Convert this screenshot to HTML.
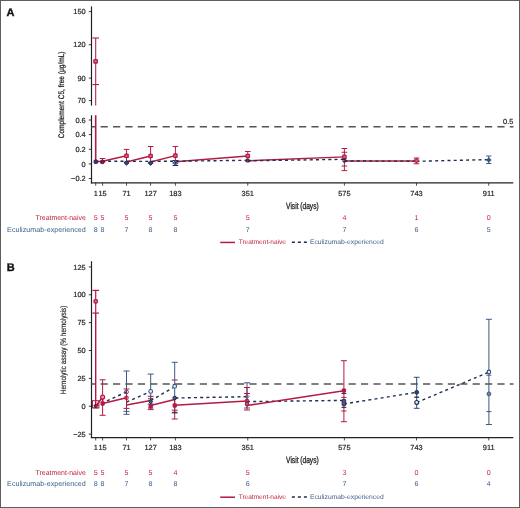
<!DOCTYPE html>
<html><head><meta charset="utf-8"><title>Figure</title>
<style>html,body{margin:0;padding:0;background:#fff;}svg{display:block;will-change:transform;}</style>
</head><body>
<svg width="520" height="508" viewBox="0 0 520 508" text-rendering="geometricPrecision" font-family='"Liberation Sans", sans-serif'>
<rect x="0" y="0" width="520" height="508" fill="#fff"/>
<text x="6.6" y="15.6" font-size="11" fill="#111" text-anchor="start" font-weight="bold" stroke="#111" stroke-width="0.35">A</text>
<line x1="91.5" y1="6.4" x2="91.5" y2="105.6" stroke="#222" stroke-width="1.2" />
<line x1="91.5" y1="115.2" x2="91.5" y2="183.5" stroke="#222" stroke-width="1.2" />
<line x1="88.8" y1="11.6" x2="91.5" y2="11.6" stroke="#222" stroke-width="0.9" />
<text x="85.7" y="14.3" font-size="7.4" fill="#222" text-anchor="end" stroke="#2a2a2a" stroke-width="0.2">150</text>
<line x1="88.8" y1="44.75" x2="91.5" y2="44.75" stroke="#222" stroke-width="0.9" />
<text x="85.7" y="47.45" font-size="7.4" fill="#222" text-anchor="end" stroke="#2a2a2a" stroke-width="0.2">120</text>
<line x1="88.8" y1="78.1" x2="91.5" y2="78.1" stroke="#222" stroke-width="0.9" />
<text x="85.7" y="80.8" font-size="7.4" fill="#222" text-anchor="end" stroke="#2a2a2a" stroke-width="0.2">90</text>
<line x1="88.8" y1="100.6" x2="91.5" y2="100.6" stroke="#222" stroke-width="0.9" />
<text x="85.7" y="103.3" font-size="7.4" fill="#222" text-anchor="end" stroke="#2a2a2a" stroke-width="0.2">70</text>
<line x1="88.8" y1="120" x2="91.5" y2="120" stroke="#222" stroke-width="0.9" />
<text x="85.7" y="122.7" font-size="7.4" fill="#222" text-anchor="end" stroke="#2a2a2a" stroke-width="0.2">0.6</text>
<line x1="88.8" y1="134.6" x2="91.5" y2="134.6" stroke="#222" stroke-width="0.9" />
<text x="85.7" y="137.29999999999998" font-size="7.4" fill="#222" text-anchor="end" stroke="#2a2a2a" stroke-width="0.2">0.4</text>
<line x1="88.8" y1="149.25" x2="91.5" y2="149.25" stroke="#222" stroke-width="0.9" />
<text x="85.7" y="151.95" font-size="7.4" fill="#222" text-anchor="end" stroke="#2a2a2a" stroke-width="0.2">0.2</text>
<line x1="88.8" y1="163.9" x2="91.5" y2="163.9" stroke="#222" stroke-width="0.9" />
<text x="85.7" y="166.6" font-size="7.4" fill="#222" text-anchor="end" stroke="#2a2a2a" stroke-width="0.2">0</text>
<line x1="88.8" y1="178.5" x2="91.5" y2="178.5" stroke="#222" stroke-width="0.9" />
<text x="85.7" y="181.2" font-size="7.4" fill="#222" text-anchor="end" stroke="#2a2a2a" stroke-width="0.2">−0.2</text>
<text transform="translate(64.3,94.9) rotate(-90) scale(0.82,1)" font-size="8.0" fill="#222" stroke="#222" stroke-width="0.25" text-anchor="middle">Complement C5, free (μg/mL)</text>
<line x1="91.5" y1="126.8" x2="513.5" y2="126.8" stroke="#555" stroke-width="1.45" stroke-dasharray="7.2 5.2" stroke-dashoffset="3.3"/>
<text x="513.3" y="123.75" font-size="7.4" fill="#222" text-anchor="end" stroke="#2a2a2a" stroke-width="0.2">0.5</text>
<line x1="95.7" y1="38" x2="95.7" y2="105.6" stroke="#b31b43" stroke-width="1.05" />
<line x1="92.4" y1="38" x2="99.0" y2="38" stroke="#b31b43" stroke-width="1.1" />
<line x1="92.4" y1="84.6" x2="99.0" y2="84.6" stroke="#b31b43" stroke-width="1.1" />
<rect x="93.89999999999999" y="59.599999999999994" width="3.4" height="3.4" rx="0.6" fill="#e07090" stroke="#b31b43" stroke-width="1.3"/>
<line x1="95.7" y1="115.2" x2="95.7" y2="161.5" stroke="#b31b43" stroke-width="1.6" />
<polyline points="95.7,161.6 102.6,161.2 126.5,155.8" fill="none" stroke="#b31b43" stroke-width="1.4"  stroke-linejoin="round"/>
<polyline points="126.5,162 150.6,156" fill="none" stroke="#b31b43" stroke-width="1.4"  stroke-linejoin="round"/>
<polyline points="150.6,162 175.4,155.6" fill="none" stroke="#b31b43" stroke-width="1.4"  stroke-linejoin="round"/>
<polyline points="175.4,161.7 247.75,156" fill="none" stroke="#b31b43" stroke-width="1.4"  stroke-linejoin="round"/>
<polyline points="247.75,160.8 344.4,156.9" fill="none" stroke="#b31b43" stroke-width="1.4"  stroke-linejoin="round"/>
<polyline points="344.4,161 416.5,161" fill="none" stroke="#b31b43" stroke-width="1.4"  stroke-linejoin="round"/>
<polyline points="95.7,161.6 102.6,161.3 126.5,161.3 150.6,161.4 175.4,161.2 247.75,160.3" fill="none" stroke="#1c2f4d" stroke-width="1.4" stroke-dasharray="3 3.2" stroke-linejoin="round"/>
<polyline points="247.75,160.8 344.4,159.3" fill="none" stroke="#1c2f4d" stroke-width="1.4" stroke-dasharray="3 3.2" stroke-linejoin="round"/>
<polyline points="344.4,161 416.5,161.2" fill="none" stroke="#1c2f4d" stroke-width="1.4" stroke-dasharray="3 3.2" stroke-linejoin="round"/>
<polyline points="416.5,161.3 488.75,159.6" fill="none" stroke="#1c2f4d" stroke-width="1.4" stroke-dasharray="3 3.2" stroke-linejoin="round"/>
<line x1="102.6" y1="158.5" x2="102.6" y2="162" stroke="#b31b43" stroke-width="1.0" />
<line x1="99.8" y1="158.5" x2="105.39999999999999" y2="158.5" stroke="#b31b43" stroke-width="1.0" />
<line x1="99.8" y1="162" x2="105.39999999999999" y2="162" stroke="#b31b43" stroke-width="1.0" />
<line x1="126.5" y1="149.4" x2="126.5" y2="162" stroke="#b31b43" stroke-width="1.0" />
<line x1="123.7" y1="149.4" x2="129.3" y2="149.4" stroke="#b31b43" stroke-width="1.0" />
<line x1="123.7" y1="162" x2="129.3" y2="162" stroke="#b31b43" stroke-width="1.0" />
<rect x="124.8" y="154.10000000000002" width="3.4" height="3.4" rx="0.6" fill="#e06080" stroke="#b31b43" stroke-width="1.2"/>
<line x1="150.6" y1="146.5" x2="150.6" y2="163" stroke="#b31b43" stroke-width="1.0" />
<line x1="147.79999999999998" y1="146.5" x2="153.4" y2="146.5" stroke="#b31b43" stroke-width="1.0" />
<line x1="147.79999999999998" y1="163" x2="153.4" y2="163" stroke="#b31b43" stroke-width="1.0" />
<rect x="148.9" y="154.3" width="3.4" height="3.4" rx="0.6" fill="#e06080" stroke="#b31b43" stroke-width="1.2"/>
<line x1="175.4" y1="146.5" x2="175.4" y2="163" stroke="#b31b43" stroke-width="1.0" />
<line x1="172.6" y1="146.5" x2="178.20000000000002" y2="146.5" stroke="#b31b43" stroke-width="1.0" />
<line x1="172.6" y1="163" x2="178.20000000000002" y2="163" stroke="#b31b43" stroke-width="1.0" />
<rect x="173.70000000000002" y="153.9" width="3.4" height="3.4" rx="0.6" fill="#e06080" stroke="#b31b43" stroke-width="1.2"/>
<line x1="247.75" y1="151.5" x2="247.75" y2="161" stroke="#b31b43" stroke-width="1.0" />
<line x1="244.95" y1="151.5" x2="250.55" y2="151.5" stroke="#b31b43" stroke-width="1.0" />
<line x1="244.95" y1="161" x2="250.55" y2="161" stroke="#b31b43" stroke-width="1.0" />
<rect x="246.05" y="154.3" width="3.4" height="3.4" rx="0.6" fill="#e06080" stroke="#b31b43" stroke-width="1.2"/>
<line x1="344.4" y1="148.5" x2="344.4" y2="170.6" stroke="#b31b43" stroke-width="1.0" />
<line x1="341.59999999999997" y1="148.5" x2="347.2" y2="148.5" stroke="#b31b43" stroke-width="1.0" />
<line x1="341.59999999999997" y1="170.6" x2="347.2" y2="170.6" stroke="#b31b43" stroke-width="1.0" />
<line x1="341.59999999999997" y1="152.25" x2="347.2" y2="152.25" stroke="#b31b43" stroke-width="1.0" />
<line x1="341.59999999999997" y1="166" x2="347.2" y2="166" stroke="#b31b43" stroke-width="1.0" />
<rect x="342.7" y="155.20000000000002" width="3.4" height="3.4" rx="0.6" fill="#e06080" stroke="#b31b43" stroke-width="1.2"/>
<line x1="416.5" y1="158" x2="416.5" y2="163.75" stroke="#b31b43" stroke-width="1.0" />
<line x1="413.7" y1="158" x2="419.3" y2="158" stroke="#b31b43" stroke-width="1.0" />
<line x1="413.7" y1="163.75" x2="419.3" y2="163.75" stroke="#b31b43" stroke-width="1.0" />
<rect x="414.9" y="159.0" width="3.2" height="3.2" rx="0.6" fill="#e06080" stroke="#b31b43" stroke-width="1.1"/>
<rect x="94.1" y="160.0" width="3.4" height="3.4" rx="0.6" fill="#4a3060" stroke="#3a2a5a" stroke-width="1.0"/>
<rect x="100.5" y="160.1" width="3.6" height="3.6" rx="1.4" fill="#7a1a45" stroke="#6a1a40" stroke-width="1.0"/>
<path d="M126.5 160.7L128.8 163L126.5 165.3L124.2 163Z" fill="#2a4a78" stroke="#1c2f4d" stroke-width="1.0"/>
<path d="M150.6 160.79999999999998L152.9 163.1L150.6 165.4L148.29999999999998 163.1Z" fill="#2a4a78" stroke="#1c2f4d" stroke-width="1.0"/>
<line x1="175.4" y1="160.5" x2="175.4" y2="165.5" stroke="#1c2f4d" stroke-width="1.0" />
<line x1="172.6" y1="160.5" x2="178.20000000000002" y2="160.5" stroke="#1c2f4d" stroke-width="1.0" />
<line x1="172.6" y1="165.5" x2="178.20000000000002" y2="165.5" stroke="#1c2f4d" stroke-width="1.0" />
<path d="M175.4 160.8L177.6 163L175.4 165.2L173.20000000000002 163Z" fill="none" stroke="#3a5a84" stroke-width="1.1"/>
<rect x="246.35" y="159.2" width="2.8" height="2.8" rx="0.6" fill="none" stroke="#1c2f4d" stroke-width="1.1"/>
<rect x="343.0" y="159.1" width="2.8" height="2.8" rx="0.6" fill="none" stroke="#1c2f4d" stroke-width="1.1"/>
<line x1="488.75" y1="156" x2="488.75" y2="163.5" stroke="#3a5a84" stroke-width="1.0" />
<line x1="486.15" y1="156" x2="491.35" y2="156" stroke="#3a5a84" stroke-width="1.0" />
<line x1="486.15" y1="163.5" x2="491.35" y2="163.5" stroke="#3a5a84" stroke-width="1.0" />
<path d="M488.75 158.0L490.75 160L488.75 162.0L486.75 160Z" fill="#3a5a84" stroke="#3a5a84" stroke-width="1.1"/>
<line x1="90.9" y1="182.9" x2="513.3" y2="182.9" stroke="#222" stroke-width="1.2" />
<line x1="95.7" y1="182.9" x2="95.7" y2="185.70000000000002" stroke="#222" stroke-width="0.8" />
<line x1="102.6" y1="182.9" x2="102.6" y2="185.70000000000002" stroke="#222" stroke-width="0.8" />
<line x1="126.5" y1="182.9" x2="126.5" y2="185.70000000000002" stroke="#222" stroke-width="0.8" />
<line x1="150.6" y1="182.9" x2="150.6" y2="185.70000000000002" stroke="#222" stroke-width="0.8" />
<line x1="175.4" y1="182.9" x2="175.4" y2="185.70000000000002" stroke="#222" stroke-width="0.8" />
<line x1="247.75" y1="182.9" x2="247.75" y2="185.70000000000002" stroke="#222" stroke-width="0.8" />
<line x1="344.4" y1="182.9" x2="344.4" y2="185.70000000000002" stroke="#222" stroke-width="0.8" />
<line x1="416.5" y1="182.9" x2="416.5" y2="185.70000000000002" stroke="#222" stroke-width="0.8" />
<line x1="488.75" y1="182.9" x2="488.75" y2="185.70000000000002" stroke="#222" stroke-width="0.8" />
<text x="95.7" y="195.6" font-size="7.4" fill="#222" text-anchor="middle" stroke="#2a2a2a" stroke-width="0.2">1</text>
<text x="102.6" y="195.6" font-size="7.4" fill="#222" text-anchor="middle" stroke="#2a2a2a" stroke-width="0.2">15</text>
<text x="126.5" y="195.6" font-size="7.4" fill="#222" text-anchor="middle" stroke="#2a2a2a" stroke-width="0.2">71</text>
<text x="150.6" y="195.6" font-size="7.4" fill="#222" text-anchor="middle" stroke="#2a2a2a" stroke-width="0.2">127</text>
<text x="175.4" y="195.6" font-size="7.4" fill="#222" text-anchor="middle" stroke="#2a2a2a" stroke-width="0.2">183</text>
<text x="247.75" y="195.6" font-size="7.4" fill="#222" text-anchor="middle" stroke="#2a2a2a" stroke-width="0.2">351</text>
<text x="344.4" y="195.6" font-size="7.4" fill="#222" text-anchor="middle" stroke="#2a2a2a" stroke-width="0.2">575</text>
<text x="416.5" y="195.6" font-size="7.4" fill="#222" text-anchor="middle" stroke="#2a2a2a" stroke-width="0.2">743</text>
<text x="488.75" y="195.6" font-size="7.4" fill="#222" text-anchor="middle" stroke="#2a2a2a" stroke-width="0.2">911</text>
<text transform="translate(302.4,208.5) scale(0.72,1)" font-size="9.2" fill="#222" stroke="#222" stroke-width="0.3" text-anchor="middle">Visit (days)</text>
<text x="85.8" y="220.1" font-size="7.1" fill="#c0243f" text-anchor="end" textLength="50.3" lengthAdjust="spacingAndGlyphs">Treatment-naive</text>
<text x="85.8" y="231.7" font-size="7.1" fill="#3b5f8c" text-anchor="end" textLength="78.7" lengthAdjust="spacingAndGlyphs">Eculizumab-experienced</text>
<text x="95.7" y="220.1" font-size="7.1" fill="#c0243f" text-anchor="middle" >5</text>
<text x="102.6" y="220.1" font-size="7.1" fill="#c0243f" text-anchor="middle" >5</text>
<text x="126.5" y="220.1" font-size="7.1" fill="#c0243f" text-anchor="middle" >5</text>
<text x="150.6" y="220.1" font-size="7.1" fill="#c0243f" text-anchor="middle" >5</text>
<text x="175.4" y="220.1" font-size="7.1" fill="#c0243f" text-anchor="middle" >5</text>
<text x="247.75" y="220.1" font-size="7.1" fill="#c0243f" text-anchor="middle" >5</text>
<text x="344.4" y="220.1" font-size="7.1" fill="#c0243f" text-anchor="middle" >4</text>
<text x="416.5" y="220.1" font-size="7.1" fill="#c0243f" text-anchor="middle" >1</text>
<text x="488.75" y="220.1" font-size="7.1" fill="#c0243f" text-anchor="middle" >0</text>
<text x="95.7" y="231.7" font-size="7.1" fill="#3b5f8c" text-anchor="middle" >8</text>
<text x="102.6" y="231.7" font-size="7.1" fill="#3b5f8c" text-anchor="middle" >8</text>
<text x="126.5" y="231.7" font-size="7.1" fill="#3b5f8c" text-anchor="middle" >7</text>
<text x="150.6" y="231.7" font-size="7.1" fill="#3b5f8c" text-anchor="middle" >8</text>
<text x="175.4" y="231.7" font-size="7.1" fill="#3b5f8c" text-anchor="middle" >8</text>
<text x="247.75" y="231.7" font-size="7.1" fill="#3b5f8c" text-anchor="middle" >7</text>
<text x="344.4" y="231.7" font-size="7.1" fill="#3b5f8c" text-anchor="middle" >7</text>
<text x="416.5" y="231.7" font-size="7.1" fill="#3b5f8c" text-anchor="middle" >6</text>
<text x="488.75" y="231.7" font-size="7.1" fill="#3b5f8c" text-anchor="middle" >5</text>
<line x1="220.2" y1="242.45" x2="235.0" y2="242.45" stroke="#b31b43" stroke-width="1.5" />
<text x="238.7" y="244.4" font-size="6.7" fill="#c0243f" text-anchor="start" textLength="47.3" lengthAdjust="spacingAndGlyphs">Treatment-naive</text>
<line x1="291.9" y1="242.25" x2="307.0" y2="242.25" stroke="#1c2f4d" stroke-width="1.3" stroke-dasharray="3 3"/>
<text x="310.0" y="244.4" font-size="6.7" fill="#3b5f8c" text-anchor="start" textLength="73.7" lengthAdjust="spacingAndGlyphs">Eculizumab-experienced</text>
<text x="6.7" y="270.9" font-size="11" fill="#111" text-anchor="start" font-weight="bold" stroke="#111" stroke-width="0.35">B</text>
<line x1="91.5" y1="261.25" x2="91.5" y2="438.1" stroke="#222" stroke-width="1.2" />
<line x1="88.8" y1="266.9" x2="91.5" y2="266.9" stroke="#222" stroke-width="0.9" />
<text x="85.7" y="269.59999999999997" font-size="7.4" fill="#222" text-anchor="end" stroke="#2a2a2a" stroke-width="0.2">125</text>
<line x1="88.8" y1="294.77" x2="91.5" y2="294.77" stroke="#222" stroke-width="0.9" />
<text x="85.7" y="297.46999999999997" font-size="7.4" fill="#222" text-anchor="end" stroke="#2a2a2a" stroke-width="0.2">100</text>
<line x1="88.8" y1="322.64" x2="91.5" y2="322.64" stroke="#222" stroke-width="0.9" />
<text x="85.7" y="325.34" font-size="7.4" fill="#222" text-anchor="end" stroke="#2a2a2a" stroke-width="0.2">75</text>
<line x1="88.8" y1="350.51" x2="91.5" y2="350.51" stroke="#222" stroke-width="0.9" />
<text x="85.7" y="353.21" font-size="7.4" fill="#222" text-anchor="end" stroke="#2a2a2a" stroke-width="0.2">50</text>
<line x1="88.8" y1="378.38" x2="91.5" y2="378.38" stroke="#222" stroke-width="0.9" />
<text x="85.7" y="381.08" font-size="7.4" fill="#222" text-anchor="end" stroke="#2a2a2a" stroke-width="0.2">25</text>
<line x1="88.8" y1="406.25" x2="91.5" y2="406.25" stroke="#222" stroke-width="0.9" />
<text x="85.7" y="408.95" font-size="7.4" fill="#222" text-anchor="end" stroke="#2a2a2a" stroke-width="0.2">0</text>
<line x1="88.8" y1="434.12" x2="91.5" y2="434.12" stroke="#222" stroke-width="0.9" />
<text x="85.7" y="436.82" font-size="7.4" fill="#222" text-anchor="end" stroke="#2a2a2a" stroke-width="0.2">−25</text>
<text transform="translate(66.2,349.85) rotate(-90) scale(0.80,1)" font-size="8.0" fill="#222" stroke="#222" stroke-width="0.15" text-anchor="middle">Hemolytic assay (% hemolysis)</text>
<line x1="91.5" y1="383.9" x2="513.5" y2="383.9" stroke="#555" stroke-width="1.45" stroke-dasharray="7.2 5.2" stroke-dashoffset="3.3"/>
<line x1="95.7" y1="290.4" x2="95.7" y2="313.1" stroke="#b31b43" stroke-width="1.2" />
<line x1="92.4" y1="290.4" x2="99.0" y2="290.4" stroke="#b31b43" stroke-width="1.2" />
<line x1="92.4" y1="313.1" x2="99.0" y2="313.1" stroke="#b31b43" stroke-width="1.2" />
<line x1="95.7" y1="313.1" x2="95.7" y2="407.9" stroke="#b31b43" stroke-width="1.4" />
<line x1="93.10000000000001" y1="407.9" x2="98.3" y2="407.9" stroke="#b31b43" stroke-width="1.0" />
<rect x="94.0" y="299.6" width="3.4" height="3.4" rx="1.2" fill="#e07090" stroke="#b31b43" stroke-width="1.3"/>
<rect x="92.5" y="400.7" width="6.4" height="7.2" fill="none" stroke="#b31b43" stroke-width="1"/>
<path d="M95.7 403.8L97.7 405.8L95.7 407.8L93.7 405.8Z" fill="#1c2f4d" stroke="#1c2f4d" stroke-width="0.8"/>
<polyline points="95.7,406.2 126.5,391.9" fill="none" stroke="#1c2f4d" stroke-width="1.4" stroke-dasharray="3 3.2" stroke-linejoin="round"/>
<polyline points="126.5,402 150.6,391.6" fill="none" stroke="#1c2f4d" stroke-width="1.4" stroke-dasharray="3 3.2" stroke-linejoin="round"/>
<polyline points="150.6,400.7 175.4,386.3" fill="none" stroke="#1c2f4d" stroke-width="1.4" stroke-dasharray="3 3.2" stroke-linejoin="round"/>
<polyline points="175.4,398 247,396.7" fill="none" stroke="#1c2f4d" stroke-width="1.4" stroke-dasharray="3 3.2" stroke-linejoin="round"/>
<polyline points="247,401.6 343.9,400.4" fill="none" stroke="#1c2f4d" stroke-width="1.4" stroke-dasharray="3 3.2" stroke-linejoin="round"/>
<polyline points="343.9,404 416.7,392.3" fill="none" stroke="#1c2f4d" stroke-width="1.4" stroke-dasharray="3 3.2" stroke-linejoin="round"/>
<polyline points="416.7,402.5 488.75,372.2" fill="none" stroke="#1c2f4d" stroke-width="1.4" stroke-dasharray="3 3.2" stroke-linejoin="round"/>
<polyline points="95.7,406.5 102.6,397 102.6,403.5 126.5,397.8" fill="none" stroke="#b31b43" stroke-width="1.5"  stroke-linejoin="round"/>
<polyline points="126.5,405 150.6,400.5" fill="none" stroke="#b31b43" stroke-width="1.5"  stroke-linejoin="round"/>
<polyline points="150.6,405.5 174.7,399.5" fill="none" stroke="#b31b43" stroke-width="1.5"  stroke-linejoin="round"/>
<polyline points="174.7,405.3 247,401" fill="none" stroke="#b31b43" stroke-width="1.5"  stroke-linejoin="round"/>
<polyline points="247,405.5 343.9,390.7" fill="none" stroke="#b31b43" stroke-width="1.5"  stroke-linejoin="round"/>
<line x1="102.6" y1="379.8" x2="102.6" y2="415.3" stroke="#b31b43" stroke-width="1.0" />
<line x1="99.6" y1="379.8" x2="105.6" y2="379.8" stroke="#b31b43" stroke-width="1.0" />
<line x1="99.6" y1="415.3" x2="105.6" y2="415.3" stroke="#b31b43" stroke-width="1.0" />
<circle cx="102.6" cy="397.1" r="2.0" fill="#f0a0b8" stroke="#b31b43" stroke-width="1.2"/>
<rect x="101.0" y="401.9" width="3.2" height="3.2" rx="0.6" fill="#b31b43" stroke="#b31b43" stroke-width="1.1"/>
<line x1="126.5" y1="371" x2="126.5" y2="414.3" stroke="#3a5a84" stroke-width="1.0" />
<line x1="123.5" y1="371" x2="129.5" y2="371" stroke="#3a5a84" stroke-width="1.0" />
<line x1="123.5" y1="414.3" x2="129.5" y2="414.3" stroke="#3a5a84" stroke-width="1.0" />
<line x1="123.5" y1="411.4" x2="129.5" y2="411.4" stroke="#3a5a84" stroke-width="1.0" />
<circle cx="126.5" cy="391.9" r="1.9" fill="none" stroke="#3a5a84" stroke-width="1.0"/>
<line x1="123.5" y1="389" x2="129.5" y2="389" stroke="#b31b43" stroke-width="1.0" />
<line x1="123.5" y1="408.4" x2="129.5" y2="408.4" stroke="#b31b43" stroke-width="1.0" />
<rect x="125.0" y="396.3" width="3.0" height="3.0" rx="0.6" fill="none" stroke="#b31b43" stroke-width="1.1"/>
<line x1="126.5" y1="389" x2="126.5" y2="408.4" stroke="#b31b43" stroke-width="1.0" />
<line x1="150.7" y1="374.1" x2="150.7" y2="404" stroke="#3a5a84" stroke-width="1.0" />
<line x1="147.7" y1="374.1" x2="153.7" y2="374.1" stroke="#3a5a84" stroke-width="1.0" />
<line x1="147.7" y1="404" x2="153.7" y2="404" stroke="#3a5a84" stroke-width="1.0" />
<circle cx="150.7" cy="391.4" r="1.9" fill="#e8eef8" stroke="#3a5a84" stroke-width="1.1"/>
<line x1="147.7" y1="396.3" x2="153.7" y2="396.3" stroke="#b31b43" stroke-width="1.0" />
<line x1="148.1" y1="398.8" x2="153.29999999999998" y2="398.8" stroke="#1c2f4d" stroke-width="1.0" />
<line x1="150.7" y1="396" x2="150.7" y2="409.4" stroke="#b31b43" stroke-width="1.0" />
<line x1="148.1" y1="408" x2="153.29999999999998" y2="408" stroke="#1c2f4d" stroke-width="1.0" />
<line x1="147.7" y1="409.6" x2="153.7" y2="409.6" stroke="#b31b43" stroke-width="1.0" />
<rect x="149.1" y="404.4" width="3.2" height="3.2" rx="0.6" fill="#b31b43" stroke="#b31b43" stroke-width="1.1"/>
<path d="M150.7 399.5L152.79999999999998 401.6L150.7 403.70000000000005L148.6 401.6Z" fill="#3a5a88" stroke="#1c2f4d" stroke-width="1.0"/>
<line x1="174.7" y1="362.3" x2="174.7" y2="413" stroke="#3a5a84" stroke-width="1.0" />
<line x1="171.7" y1="362.3" x2="177.7" y2="362.3" stroke="#3a5a84" stroke-width="1.0" />
<line x1="171.7" y1="413" x2="177.7" y2="413" stroke="#3a5a84" stroke-width="1.0" />
<line x1="171.7" y1="380" x2="177.7" y2="380" stroke="#b31b43" stroke-width="1.0" />
<circle cx="174.7" cy="386.3" r="1.9" fill="#e8eef8" stroke="#3a5a84" stroke-width="1.1"/>
<line x1="174.7" y1="400" x2="174.7" y2="419" stroke="#b31b43" stroke-width="1.0" />
<line x1="171.7" y1="410.2" x2="177.7" y2="410.2" stroke="#b31b43" stroke-width="1.0" />
<line x1="172.1" y1="412.3" x2="177.29999999999998" y2="412.3" stroke="#1c2f4d" stroke-width="1.0" />
<line x1="171.7" y1="419" x2="177.7" y2="419" stroke="#b31b43" stroke-width="1.0" />
<rect x="173.1" y="403.9" width="3.2" height="3.2" rx="0.6" fill="#b31b43" stroke="#b31b43" stroke-width="1.1"/>
<circle cx="174.7" cy="398" r="1.8" fill="#3a5a88" stroke="#1c2f4d" stroke-width="1.0"/>
<line x1="247" y1="382.8" x2="247" y2="408" stroke="#3a5a84" stroke-width="1.0" />
<line x1="244.0" y1="382.8" x2="250.0" y2="382.8" stroke="#3a5a84" stroke-width="1.0" />
<line x1="244.0" y1="408" x2="250.0" y2="408" stroke="#3a5a84" stroke-width="1.0" />
<line x1="244.0" y1="387.5" x2="250.0" y2="387.5" stroke="#b31b43" stroke-width="1.0" />
<line x1="244.0" y1="393.5" x2="250.0" y2="393.5" stroke="#b31b43" stroke-width="1.0" />
<line x1="247" y1="387.5" x2="247" y2="410" stroke="#b31b43" stroke-width="1.0" />
<line x1="244.0" y1="410" x2="250.0" y2="410" stroke="#b31b43" stroke-width="1.0" />
<path d="M247 394.5L249.0 396.5L247 398.5L245.0 396.5Z" fill="none" stroke="#3a5a84" stroke-width="1.0"/>
<rect x="245.5" y="399.5" width="3.0" height="3.0" rx="0.6" fill="none" stroke="#b31b43" stroke-width="1.1"/>
<rect x="245.5" y="402.5" width="3.0" height="3.0" rx="0.6" fill="none" stroke="#b31b43" stroke-width="1.1"/>
<line x1="343.9" y1="360.7" x2="343.9" y2="421.7" stroke="#b31b43" stroke-width="1.0" />
<line x1="340.9" y1="360.7" x2="346.9" y2="360.7" stroke="#b31b43" stroke-width="1.0" />
<line x1="340.9" y1="421.7" x2="346.9" y2="421.7" stroke="#b31b43" stroke-width="1.0" />
<line x1="341.29999999999995" y1="397.4" x2="346.5" y2="397.4" stroke="#b31b43" stroke-width="1.0" />
<line x1="341.29999999999995" y1="411" x2="346.5" y2="411" stroke="#b31b43" stroke-width="1.0" />
<line x1="341.5" y1="393.6" x2="346.29999999999995" y2="393.6" stroke="#1c2f4d" stroke-width="1.0" />
<line x1="341.5" y1="407.4" x2="346.29999999999995" y2="407.4" stroke="#1c2f4d" stroke-width="1.0" />
<rect x="342.29999999999995" y="389.0" width="3.2" height="3.2" rx="0.6" fill="#b31b43" stroke="#b31b43" stroke-width="1.1"/>
<rect x="342.09999999999997" y="399.4" width="3.6" height="6.4" rx="0.8" fill="#5a4a80" stroke="#1c2f4d" stroke-width="0.9"/>
<line x1="416.7" y1="377.3" x2="416.7" y2="408.3" stroke="#2e4a72" stroke-width="1.0" />
<line x1="413.8" y1="377.3" x2="419.59999999999997" y2="377.3" stroke="#2e4a72" stroke-width="1.0" />
<line x1="413.8" y1="408.3" x2="419.59999999999997" y2="408.3" stroke="#2e4a72" stroke-width="1.0" />
<circle cx="416.7" cy="392.3" r="1.9" fill="#2a4a78" stroke="#1c2f4d" stroke-width="1.0"/>
<line x1="414.3" y1="397.2" x2="419.09999999999997" y2="397.2" stroke="#1c2f4d" stroke-width="1.3" />
<circle cx="416.7" cy="402.4" r="1.9" fill="#e8eef8" stroke="#1c2f4d" stroke-width="1.2"/>
<line x1="488.9" y1="319.3" x2="488.9" y2="424.5" stroke="#3a5a84" stroke-width="1.0" />
<line x1="485.9" y1="319.3" x2="491.9" y2="319.3" stroke="#3a5a84" stroke-width="1.0" />
<line x1="485.9" y1="424.5" x2="491.9" y2="424.5" stroke="#3a5a84" stroke-width="1.0" />
<circle cx="488.9" cy="371.9" r="1.8" fill="#e8eef8" stroke="#2e4a72" stroke-width="1.1"/>
<line x1="486.4" y1="375.2" x2="491.4" y2="375.2" stroke="#3a5a84" stroke-width="1.0" />
<circle cx="488.9" cy="393.9" r="1.9" fill="#6a88aa" stroke="#3e5a80" stroke-width="1.0"/>
<line x1="486.4" y1="411.6" x2="491.4" y2="411.6" stroke="#3a5a84" stroke-width="1.0" />
<line x1="90.9" y1="437.65" x2="513.3" y2="437.65" stroke="#222" stroke-width="1.2" />
<line x1="95.7" y1="437.65" x2="95.7" y2="440.45" stroke="#222" stroke-width="0.8" />
<line x1="102.6" y1="437.65" x2="102.6" y2="440.45" stroke="#222" stroke-width="0.8" />
<line x1="126.5" y1="437.65" x2="126.5" y2="440.45" stroke="#222" stroke-width="0.8" />
<line x1="150.6" y1="437.65" x2="150.6" y2="440.45" stroke="#222" stroke-width="0.8" />
<line x1="175.4" y1="437.65" x2="175.4" y2="440.45" stroke="#222" stroke-width="0.8" />
<line x1="247.75" y1="437.65" x2="247.75" y2="440.45" stroke="#222" stroke-width="0.8" />
<line x1="344.4" y1="437.65" x2="344.4" y2="440.45" stroke="#222" stroke-width="0.8" />
<line x1="416.5" y1="437.65" x2="416.5" y2="440.45" stroke="#222" stroke-width="0.8" />
<line x1="488.75" y1="437.65" x2="488.75" y2="440.45" stroke="#222" stroke-width="0.8" />
<text x="95.7" y="450.35" font-size="7.4" fill="#222" text-anchor="middle" stroke="#2a2a2a" stroke-width="0.2">1</text>
<text x="102.6" y="450.35" font-size="7.4" fill="#222" text-anchor="middle" stroke="#2a2a2a" stroke-width="0.2">15</text>
<text x="126.5" y="450.35" font-size="7.4" fill="#222" text-anchor="middle" stroke="#2a2a2a" stroke-width="0.2">71</text>
<text x="150.6" y="450.35" font-size="7.4" fill="#222" text-anchor="middle" stroke="#2a2a2a" stroke-width="0.2">127</text>
<text x="175.4" y="450.35" font-size="7.4" fill="#222" text-anchor="middle" stroke="#2a2a2a" stroke-width="0.2">183</text>
<text x="247.75" y="450.35" font-size="7.4" fill="#222" text-anchor="middle" stroke="#2a2a2a" stroke-width="0.2">351</text>
<text x="344.4" y="450.35" font-size="7.4" fill="#222" text-anchor="middle" stroke="#2a2a2a" stroke-width="0.2">575</text>
<text x="416.5" y="450.35" font-size="7.4" fill="#222" text-anchor="middle" stroke="#2a2a2a" stroke-width="0.2">743</text>
<text x="488.75" y="450.35" font-size="7.4" fill="#222" text-anchor="middle" stroke="#2a2a2a" stroke-width="0.2">911</text>
<text transform="translate(302.4,463.25) scale(0.72,1)" font-size="9.2" fill="#222" stroke="#222" stroke-width="0.3" text-anchor="middle">Visit (days)</text>
<text x="85.8" y="474.85" font-size="7.1" fill="#c0243f" text-anchor="end" textLength="50.3" lengthAdjust="spacingAndGlyphs">Treatment-naive</text>
<text x="85.8" y="486.45" font-size="7.1" fill="#3b5f8c" text-anchor="end" textLength="78.7" lengthAdjust="spacingAndGlyphs">Eculizumab-experienced</text>
<text x="95.7" y="474.85" font-size="7.1" fill="#c0243f" text-anchor="middle" >5</text>
<text x="102.6" y="474.85" font-size="7.1" fill="#c0243f" text-anchor="middle" >5</text>
<text x="126.5" y="474.85" font-size="7.1" fill="#c0243f" text-anchor="middle" >5</text>
<text x="150.6" y="474.85" font-size="7.1" fill="#c0243f" text-anchor="middle" >5</text>
<text x="175.4" y="474.85" font-size="7.1" fill="#c0243f" text-anchor="middle" >4</text>
<text x="247.75" y="474.85" font-size="7.1" fill="#c0243f" text-anchor="middle" >5</text>
<text x="344.4" y="474.85" font-size="7.1" fill="#c0243f" text-anchor="middle" >3</text>
<text x="416.5" y="474.85" font-size="7.1" fill="#c0243f" text-anchor="middle" >0</text>
<text x="488.75" y="474.85" font-size="7.1" fill="#c0243f" text-anchor="middle" >0</text>
<text x="95.7" y="486.45" font-size="7.1" fill="#3b5f8c" text-anchor="middle" >8</text>
<text x="102.6" y="486.45" font-size="7.1" fill="#3b5f8c" text-anchor="middle" >8</text>
<text x="126.5" y="486.45" font-size="7.1" fill="#3b5f8c" text-anchor="middle" >7</text>
<text x="150.6" y="486.45" font-size="7.1" fill="#3b5f8c" text-anchor="middle" >8</text>
<text x="175.4" y="486.45" font-size="7.1" fill="#3b5f8c" text-anchor="middle" >8</text>
<text x="247.75" y="486.45" font-size="7.1" fill="#3b5f8c" text-anchor="middle" >6</text>
<text x="344.4" y="486.45" font-size="7.1" fill="#3b5f8c" text-anchor="middle" >7</text>
<text x="416.5" y="486.45" font-size="7.1" fill="#3b5f8c" text-anchor="middle" >6</text>
<text x="488.75" y="486.45" font-size="7.1" fill="#3b5f8c" text-anchor="middle" >4</text>
<line x1="220.2" y1="497.2" x2="235.0" y2="497.2" stroke="#b31b43" stroke-width="1.5" />
<text x="238.7" y="499.15" font-size="6.7" fill="#c0243f" text-anchor="start" textLength="47.3" lengthAdjust="spacingAndGlyphs">Treatment-naive</text>
<line x1="291.9" y1="497.0" x2="307.0" y2="497.0" stroke="#1c2f4d" stroke-width="1.3" stroke-dasharray="3 3"/>
<text x="310.0" y="499.15" font-size="6.7" fill="#3b5f8c" text-anchor="start" textLength="73.7" lengthAdjust="spacingAndGlyphs">Eculizumab-experienced</text>
<rect x="0.5" y="0.5" width="519" height="507" fill="none" stroke="#5e5e5e" stroke-width="1"/>
</svg>
</body></html>
